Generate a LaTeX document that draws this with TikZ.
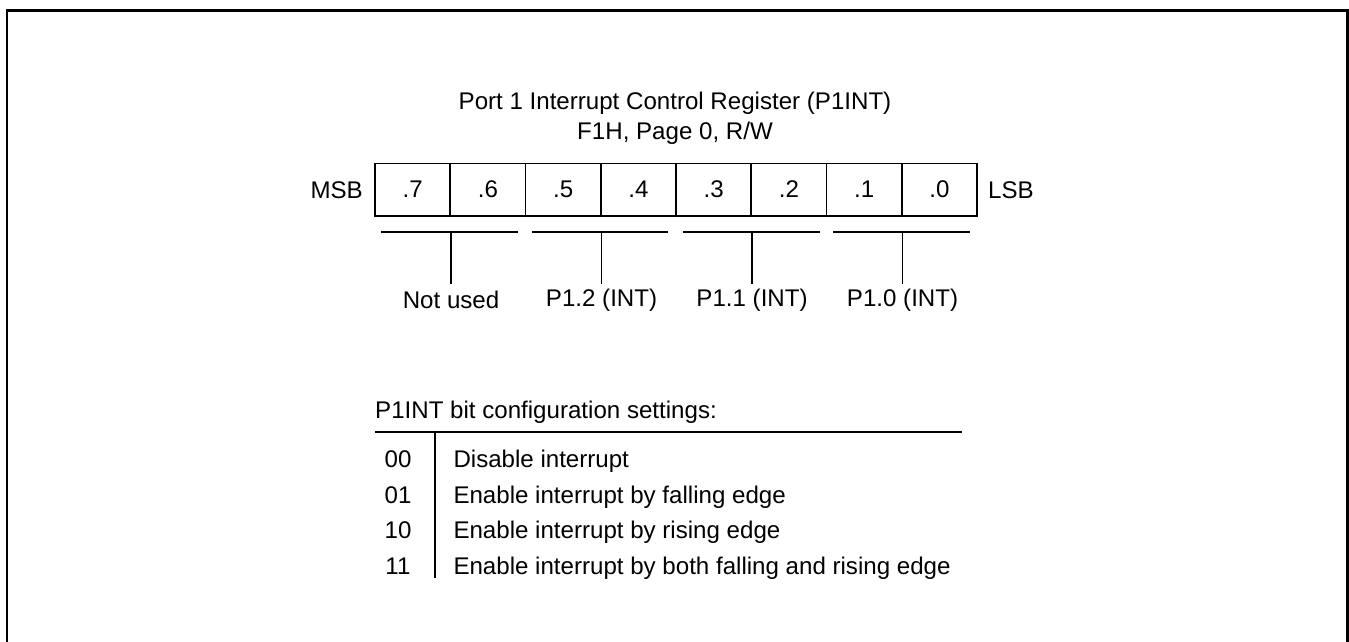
\documentclass[tikz,border=0pt]{standalone}
\usepackage{fontspec}
\setmainfont{Liberation Sans}
\begin{document}
\begin{tikzpicture}[x=1pt,y=-1pt,
  txt/.style={inner sep=0pt, font=\fontsize{24.1}{28}\selectfont},
  cell/.style={draw, line width=1.6pt, minimum width=75.25pt, minimum height=52.4pt, inner sep=0pt, font=\fontsize{24.1}{28}\selectfont},
  ln/.style={line width=1.6pt}]
\useasboundingbox (0,0) rectangle (1349,642);
% frame
\draw[line width=2.8pt] (7,650) -- (7,10.3) -- (1347.6,10.3) -- (1347.6,650);
% title
\node[txt] (t1) at (675,103) {Port 1 Interrupt Control Register (P1INT)};
\node[txt] (t2) at (675,133) {F1H, Page 0, R/W};
% register cells
\foreach \i/\b in {0/7,1/6,2/5,3/4,4/3,5/2,6/1,7/0} {
  \node[cell] (c\b) at ({375+75.25*\i+37.625},189.5) {.\b};
}
\node[txt] (msb) at (336.7,190) {MSB};
\node[txt] (lsb) at (1011,190) {LSB};
% brackets
\foreach \a/\l/\r/\n/\t in {7/381/518/nu/Not used, 5/532/668/p12/P1.2 (INT), 3/683/820/p11/P1.1 (INT), 1/833/970/p10/P1.0 (INT)} {
  \coordinate (\n L) at (\l,231.7);
  \coordinate (\n R) at (\r,231.7);
  \coordinate (\n T) at (c\a.east |- \n L);
  \draw[ln] (\n L) -- (\n R);
  \node[txt] (\n) at ([yshift=-16pt]c\a.east |- 0,284) {\t};
  \draw[ln] (\n T) -- (c\a.east |- 0,284);
}
% settings
\node[txt, anchor=west] (hdr) at (375,412) {P1INT bit configuration settings:};
\coordinate (ulL) at (375,431.7);
\coordinate (ulR) at (961.7,431.7);
\draw[ln] (ulL) -- (ulR);
\coordinate (vT) at (435,433);
\coordinate (vB) at (435,578.3);
\draw[ln] (vT) -- (vB);
\foreach \k/\code/\desc in {0/00/Disable interrupt, 1/01/Enable interrupt by falling edge, 2/10/Enable interrupt by rising edge, 3/11/Enable interrupt by both falling and rising edge} {
  \node[txt, anchor=base] (code\k) at (398,{467.5+35.5*\k}) {\code};
  \node[txt, anchor=base west] (desc\k) at (453.3,{467.5+35.5*\k}) {\desc};
}
\end{tikzpicture}
\end{document}
